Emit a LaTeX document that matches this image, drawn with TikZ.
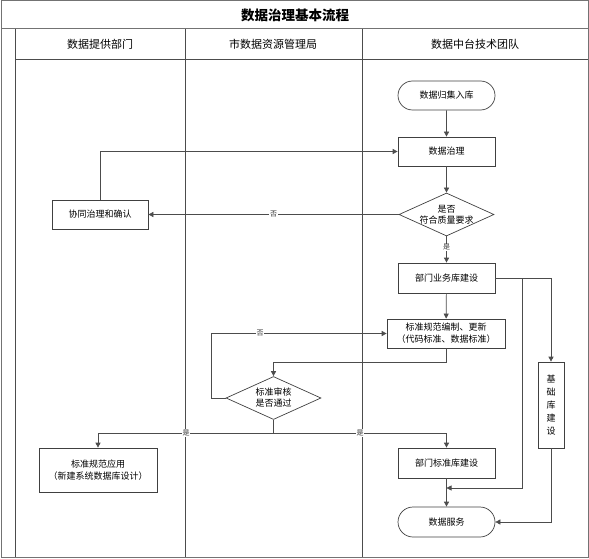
\documentclass[tikz,border=0pt]{standalone}
\usepackage{fontspec}
\setmainfont{Noto Sans CJK SC}
\usetikzlibrary{arrows.meta,shapes.geometric,shapes.misc}
\begin{document}
\begin{tikzpicture}[x=1pt,y=-1pt,
  box/.style={draw=black!75, line width=0.7pt, minimum width=97pt, minimum height=29pt, inner sep=0pt, font=\fontsize{9}{12}\selectfont, align=center},
  term/.style={box, rounded rectangle},
  dia/.style={diamond, draw=black!75, line width=0.7pt, minimum width=95pt, minimum height=43pt, inner sep=0pt},
  dtext/.style={font=\fontsize{9}{11}\selectfont, align=center},
  conn/.style={draw=black!70, line width=0.7pt},
  arr/.style={conn, -{Triangle[length=5pt,width=5pt]}},
  yn/.style={font=\fontsize{7}{7}\selectfont, fill=white, inner sep=0.6pt, text=black!80},
  frame/.style={draw=black!55, line width=1pt},
  lane/.style={draw=black!70, line width=0.8pt},
  head/.style={font=\fontsize{11}{11}\selectfont}
]
\useasboundingbox (0,0) rectangle (589,559);
% frame
\draw[frame] (1,1) rectangle (588,557);
\draw[frame] (1,29) -- (588,29);
\draw[lane] (15,29) -- (15,557);
\draw[lane] (15,59) -- (588,59);
\draw[lane] (185,29) -- (185,557);
\draw[lane] (362,29) -- (362,557);
\node[font=\bfseries\fontsize{13.5}{14}\selectfont] (title) at (295,15) {数据治理基本流程};
\node[head] (h1) at (100,44) {数据提供部门};
\node[head] (h2) at (273,44) {市数据资源管理局};
\node[head] (h3) at (475,44) {数据中台技术团队};
% nodes
\node[term] (n1) at (446.5,95.5) {数据归集入库};
\node[box] (n2) at (446.5,151.5) {数据治理};
\node[dia, label={[dtext]center:是否\\符合质量要求}] (d1) at (446.5,214.5) {};
\node[box, minimum width=96pt] (n3) at (100,214.5) {协同治理和确认};
\node[box, minimum height=30pt] (n4) at (446.5,278) {部门业务库建设};
\node[box, minimum width=118pt, minimum height=29pt] (n5) at (446,333.5) {标准规范编制、更新\\（代码标准、数据标准）};
\node[dia, label={[dtext]center:标准审核\\是否通过}] (d2) at (273.5,398) {};
\node[box, minimum width=118pt, minimum height=44pt] (n6) at (98,470) {标准规范应用\\（新建系统数据库设计）};
\node[box, minimum height=30pt] (n7) at (446.5,463) {部门标准库建设};
\node[term, minimum height=30pt] (n8) at (446.5,522) {数据服务};
\node[box, minimum width=26pt, minimum height=86pt, font=\fontsize{9}{13}\selectfont] (n9) at (551,405) {基\\础\\库\\建\\设};
% helper coordinates
\coordinate (b1) at (522,278);
\coordinate (b2) at (522,488);
\coordinate (j1) at (446.5,488);
\coordinate (r1) at (100,152);
\coordinate (c1) at (446,362);
\coordinate (l1) at (211,398);
\coordinate (l2) at (211,333.5);
\coordinate (s1) at (273.5,433);
\coordinate (s2) at (98,433);
\coordinate (s3) at (446.5,433);
% connectors
\draw[arr] (n1) -- (n2);
\draw[arr] (n2) -- (d1);
\draw[arr] (d1) -- node[yn, pos=0.42] {是} (n4);
\draw[arr] (d1) -- node[yn, pos=0.5] {否} (n3);
\draw[arr] (n3.north) |- (n2.west);
\draw[arr] (n4) -- (n5);
\draw[arr] (n4.east) -| (n9.north);
\draw[arr] (n4.east) -- (b1) -- (b2) -- (j1);
\draw[arr] (n7) -- (n8);
\draw[arr] (n9.south) |- (n8.east);
\draw[arr] (n5.south) -- (c1) -| (d2.north);
\draw[arr] (d2.west) -- (l1) -- (l2) -- node[yn, pos=0.28] {否} (n5.west);
\draw[conn] (d2.south) -- (s1);
\draw[arr] (s1) -- (s2) -- (n6.north);
\draw[arr] (s1) -- (s3) -- (n7.north);
\node[yn] (y1) at (186,433) {是};
\node[yn] (y2) at (360,433) {是};
\end{tikzpicture}
\end{document}
